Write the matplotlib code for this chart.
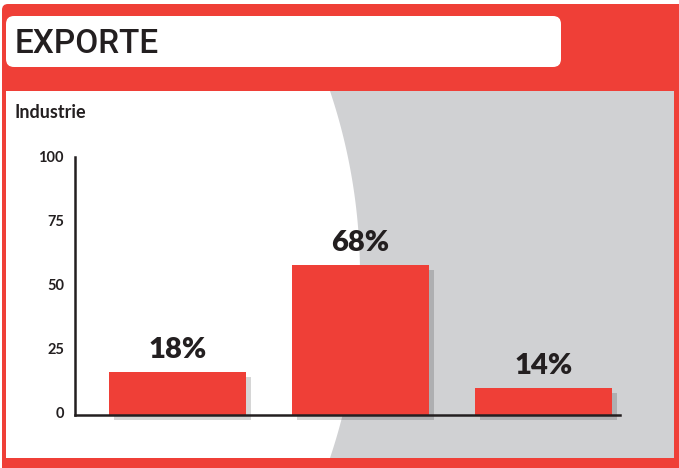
import matplotlib
matplotlib.use("Agg")
import matplotlib.pyplot as plt
from matplotlib.patches import FancyBboxPatch, Rectangle, Polygon
import matplotlib.transforms as mtransforms
import numpy as np

# ---- data ----
categories = ["Bar 1", "Bar 2", "Bar 3"]
values = [17, 59, 10.5]
value_labels = ["18%", "68%", "14%"]
yticks = [0, 25, 50, 75, 100]
ytick_labels = ["0", "25", "50", "75", "100"]
title = "EXPORTE"
subtitle = "Industrie"

RED = "#ef3f37"
GRAY = "#d0d1d3"
DARK = "#231f20"

W, H = 679, 468
fig = plt.figure(figsize=(W / 100, H / 100), dpi=100)

# ---- decoration layer (pixel coordinates) ----
bg = fig.add_axes([0, 0, 1, 1], zorder=0)
bg.set_xlim(0, W)
bg.set_ylim(H, 0)
bg.axis("off")

bg.add_patch(FancyBboxPatch((2, 4), 684, 475, boxstyle="round,pad=0,rounding_size=6",
                            facecolor=RED, edgecolor="none"))
bg.add_patch(Rectangle((6, 91), 668, 367, facecolor="white", edgecolor="none"))

# gray region with curved left edge
cx, cy, R = -216, 274.5, 576
ys = np.linspace(91, 458, 80)
xs = cx + np.sqrt(R ** 2 - (ys - cy) ** 2)
pts = list(zip(xs, ys)) + [(674, 458), (674, 91)]
bg.add_patch(Polygon(pts, closed=True, facecolor=GRAY, edgecolor="none"))

bg.add_patch(FancyBboxPatch((6, 16), 555, 51, boxstyle="round,pad=0,rounding_size=8",
                            facecolor="white", edgecolor="none"))
bg.text(15, 53, title, fontsize=24, family="Roboto", fontweight="medium",
        color=DARK, va="baseline", ha="left")
bg.text(15, 118, subtitle, fontsize=13, family="Lato", fontweight="bold",
        color=DARK, va="baseline", ha="left")

# ---- chart ----
ax = fig.add_axes([75 / W, 1 - 415 / H, (620 - 75) / W, 258 / H], zorder=1)
ax.patch.set_alpha(0)
x = np.arange(len(categories))
ax.set_xlim(-0.561, 2.418)
ax.set_ylim(0, 258 / 2.55)

shadow = mtransforms.ScaledTranslation(5 / 100, -5 / 100, fig.dpi_scale_trans)
ax.bar(x, values, width=0.749, color="black", alpha=0.16,
       transform=ax.transData + shadow, clip_on=False, zorder=2)
ax.bar(x, values, width=0.749, color=RED, zorder=3)

for xi, v, lab in zip(x, values, value_labels):
    ax.annotate(lab, (xi, v), xytext=(0, 14), textcoords="offset pixels",
                ha="center", va="baseline", fontsize=21, family="Lato",
                fontweight="heavy", color=DARK)

for s in ["top", "right"]:
    ax.spines[s].set_visible(False)
for s in ["left", "bottom"]:
    ax.spines[s].set_linewidth(1.8)
    ax.spines[s].set_color(DARK)
    ax.spines[s].set_zorder(4)

ax.set_xticks([])
ax.set_yticks(yticks)
ax.set_yticklabels(ytick_labels, fontsize=10.5, family="Lato", fontweight="bold", color=DARK)
ax.tick_params(axis="y", length=0, pad=8)
up = mtransforms.ScaledTranslation(0, 3 / 100, fig.dpi_scale_trans)
for lbl in ax.get_yticklabels():
    lbl.set_transform(lbl.get_transform() + up)

fig.savefig("out.png", dpi=100)
